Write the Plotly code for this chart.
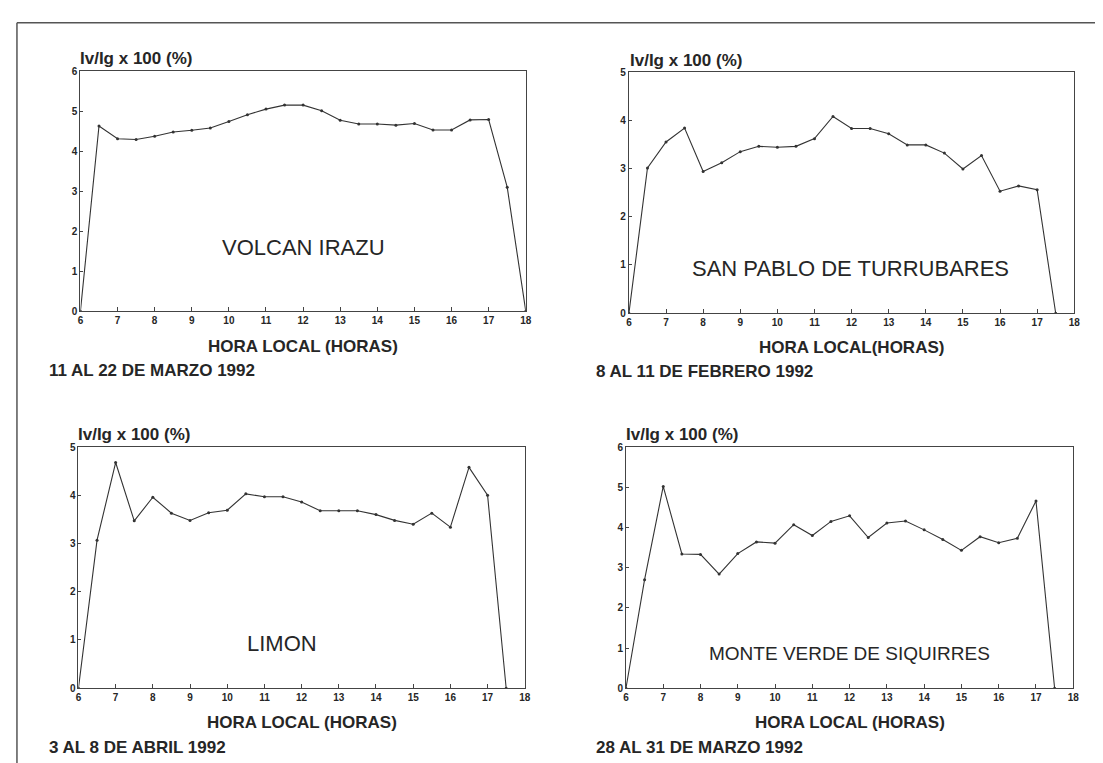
import plotly.graph_objects as go

W, H = 1103, 763

# ---------------- data ----------------
hours_full = [6, 6.5, 7, 7.5, 8, 8.5, 9, 9.5, 10, 10.5, 11, 11.5, 12, 12.5,
              13, 13.5, 14, 14.5, 15, 15.5, 16, 16.5, 17, 17.5, 18]
hours_short = hours_full[:-1]

irazu = [0, 4.63, 4.31, 4.29, 4.37, 4.48, 4.52, 4.58, 4.74, 4.91, 5.05, 5.15,
         5.15, 5.01, 4.77, 4.68, 4.68, 4.65, 4.69, 4.53, 4.53, 4.78, 4.79, 3.10, 0]
turrubares = [0, 3.01, 3.55, 3.84, 2.94, 3.12, 3.35, 3.46, 3.44, 3.46, 3.62, 4.08,
              3.83, 3.83, 3.72, 3.49, 3.49, 3.32, 2.99, 3.27, 2.53, 2.64, 2.56, 0]
limon = [0, 3.07, 4.68, 3.47, 3.96, 3.63, 3.48, 3.64, 3.69, 4.03, 3.97, 3.97,
         3.86, 3.68, 3.68, 3.68, 3.60, 3.48, 3.40, 3.63, 3.34, 4.58, 4.00, 0]
siquirres = [0, 2.70, 5.02, 3.34, 3.33, 2.84, 3.35, 3.64, 3.61, 4.07, 3.80, 4.15,
             4.29, 3.75, 4.11, 4.16, 3.94, 3.70, 3.43, 3.77, 3.62, 3.73, 4.66, 0]

x_ticks = list(range(6, 19))
y_label = "Iv/Ig x 100 (%)"
x_titles = ["HORA LOCAL (HORAS)", "HORA LOCAL(HORAS)", "HORA LOCAL (HORAS)", "HORA LOCAL (HORAS)"]
stations = ["VOLCAN IRAZU", "SAN PABLO DE TURRUBARES", "LIMON", "MONTE VERDE DE SIQUIRRES"]
dates = ["11 AL 22 DE MARZO 1992", "8 AL 11 DE FEBRERO 1992",
         "3 AL 8 DE ABRIL 1992", "28 AL 31 DE MARZO 1992"]
y_max = [6, 5, 5, 6]

series = [(hours_full, irazu), (hours_short, turrubares),
          (hours_short, limon), (hours_short, siquirres)]

# ---------------- layout (pixel boxes) ----------------
def fx(p):
    return p / W

def fy(p):
    return 1 - p / H

boxes = [  # left, right, top, bottom in pixels
    (70, 519, 58, 302),
    (623, 1072, 59, 304),
    (68, 518, 440, 685),
    (620, 1071, 440, 685),
]
station_pos = [(295, 237, 22), (846, 259, 22), (273, 640, 22), (845, 650, 19)]
date_pos = [(36, 362), (588, 363), (36, 745), (588, 745)]
ylab_pos = [(68, 45), (622, 47), (66, 427), (618, 427)]
xtitle_y = [338, 339, 720, 720]

FONT = "Liberation Sans, Arial, sans-serif"
INK = "#262626"

fig = go.Figure()
annotations = []
layout_axes = {}

for i, ((xs, ys), (l, r, t, b)) in enumerate(zip(series, boxes)):
    n = "" if i == 0 else str(i + 1)
    fig.add_trace(go.Scatter(
        x=xs, y=ys, mode="lines+markers",
        line=dict(color="#333333", width=1.1),
        marker=dict(size=3, color="#333333"),
        xaxis="x" + n, yaxis="y" + n, showlegend=False,
    ))
    common = dict(showline=True, linecolor="#444444", linewidth=1, mirror=True,
                  showgrid=False, zeroline=False, ticks="inside", tickcolor="#444444",
                  tickfont=dict(family=FONT, size=10, color=INK, weight="bold"))
    layout_axes["xaxis" + n] = dict(
        domain=[fx(l), fx(r)], range=[6, 18], anchor="y" + n,
        tickmode="array", tickvals=x_ticks, ticklen=4, **common)
    layout_axes["yaxis" + n] = dict(
        domain=[fy(b), fy(t)], range=[0, y_max[i]], anchor="x" + n,
        tickmode="array", tickvals=list(range(0, y_max[i] + 1)), ticklen=3, **common)

    # y label
    annotations.append(dict(text=y_label, x=fx(ylab_pos[i][0]), y=fy(ylab_pos[i][1]),
                            xref="paper", yref="paper", xanchor="left", yanchor="middle",
                            showarrow=False,
                            font=dict(family=FONT, size=17, color=INK, weight="bold")))
    # x title
    annotations.append(dict(text=x_titles[i], x=fx((l + r) / 2), y=fy(xtitle_y[i]),
                            xref="paper", yref="paper", xanchor="center", yanchor="middle",
                            showarrow=False,
                            font=dict(family=FONT, size=17, color=INK, weight="bold")))
    # station name
    sx, sy, ss = station_pos[i]
    annotations.append(dict(text=stations[i], x=fx(sx), y=fy(sy),
                            xref="paper", yref="paper", xanchor="center", yanchor="middle",
                            showarrow=False, font=dict(family=FONT, size=ss, color=INK)))
    # date
    annotations.append(dict(text=dates[i], x=fx(date_pos[i][0]), y=fy(date_pos[i][1]),
                            xref="paper", yref="paper", xanchor="left", yanchor="middle",
                            showarrow=False,
                            font=dict(family=FONT, size=17, color=INK, weight="bold")))

shapes = [
    dict(type="line", xref="paper", yref="paper", x0=fx(6), x1=1, y0=fy(9), y1=fy(9),
         line=dict(color="#555555", width=1.5)),
    dict(type="line", xref="paper", yref="paper", x0=fx(6), x1=fx(6), y0=fy(9), y1=0,
         line=dict(color="#555555", width=1.5)),
]

fig.update_layout(
    width=W, height=H, margin=dict(l=0, r=0, t=0, b=0),
    paper_bgcolor="white", plot_bgcolor="white",
    annotations=annotations, shapes=shapes,
    **layout_axes,
)

fig.write_html("out.html")
